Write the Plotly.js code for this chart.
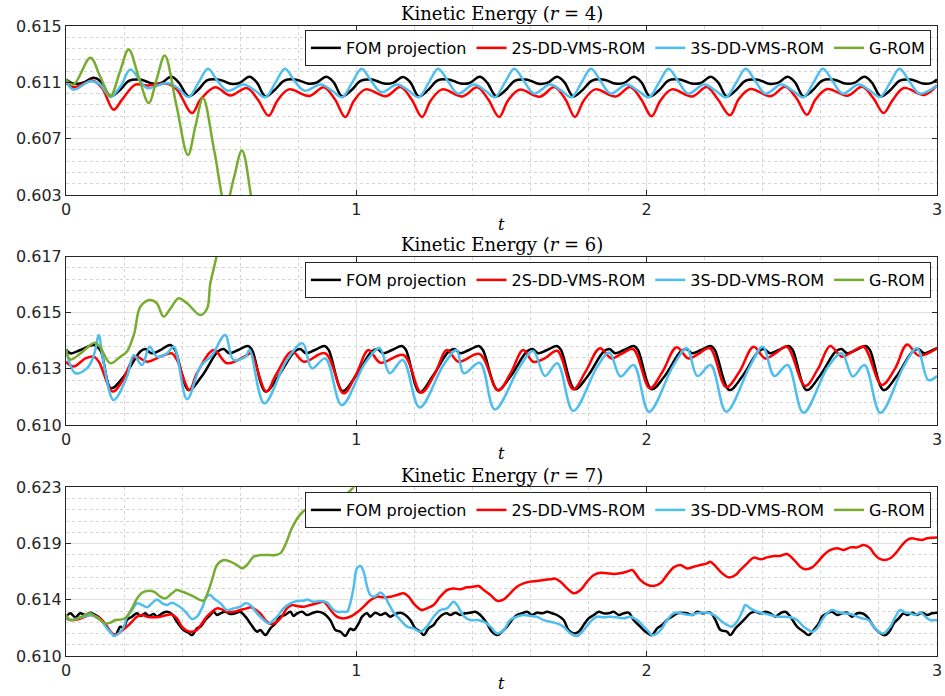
<!DOCTYPE html>
<html>
<head>
<meta charset="utf-8">
<script src="https://cdn.plot.ly/plotly-3.0.1.min.js"></script>
<style>
html,body{margin:0;padding:0;background:#ffffff;}
#chart{width:945px;height:696px;}
</style>
</head>
<body>
<div id="chart"></div>
<script>
// ---------------- DATA ----------------
const seriesNames = ['FOM projection', '2S-DD-VMS-ROM', '3S-DD-VMS-ROM', 'G-ROM'];
const seriesColors = ['#000000', '#ff0000', '#4dbeee', '#77ac30'];
const panelTitles = ['Kinetic Energy (<i>r</i> = 4)', 'Kinetic Energy (<i>r</i> = 6)', 'Kinetic Energy (<i>r</i> = 7)'];
const xAxisLabel = '<i>t</i>';
const xTickVals = [0, 1, 2, 3];
const xTickText = ['0', '1', '2', '3'];
const y1Range = [0.603, 0.615];
const y1TickVals = [0.603, 0.607, 0.611, 0.615];
const y1TickText = ['0.603', '0.607', '0.611', '0.615'];
const y2Range = [0.6104, 0.617];
const y2TickVals = [0.6104, 0.6126, 0.6148, 0.617];
const y2TickText = ['0.610', '0.613', '0.615', '0.617'];
const y3Range = [0.610, 0.623];
const y3TickVals = [0.610, 0.6143333, 0.6186667, 0.623];
const y3TickText = ['0.610', '0.614', '0.619', '0.623'];

// ----- r = 4 -----
const fom4_t = [0,0.026,0.061,0.095,0.118,0.153,
0.183,0.218,0.253,0.273,0.298,0.328,0.363,0.388,0.422,
0.452,0.487,0.522,0.542,0.567,0.597,0.632,0.657,0.687,
0.717,0.752,0.787,0.807,0.832,0.862,0.897,0.922,0.951,
0.981,1.016,1.051,1.071,1.096,1.126,1.161,1.186,1.215,
1.245,1.28,1.315,1.335,1.36,1.39,1.425,1.45,1.482,
1.512,1.547,1.582,1.602,1.627,1.657,1.692,1.717,1.747,
1.777,1.812,1.847,1.867,1.892,1.922,1.957,1.982,2.011,
2.041,2.076,2.111,2.131,2.156,2.186,2.221,2.246,2.276,
2.306,2.341,2.376,2.396,2.421,2.451,2.486,2.511,2.54,
2.57,2.605,2.64,2.66,2.685,2.715,2.75,2.775,2.807,
2.837,2.872,2.907,2.927,2.952,2.982,3.0];
const fom4_ke = [0.6112,0.6109,0.611,0.61132,0.6111,0.61003,
0.6104,0.61113,0.6112,0.6111,0.61091,0.61096,0.61139,0.611,0.61001,
0.6104,0.61115,0.6112,0.6111,0.6109,0.61095,0.6114,0.611,0.61,
0.61042,0.61113,0.61121,0.6111,0.61092,0.61097,0.61139,0.611,0.61001,
0.6104,0.61112,0.6112,0.6111,0.61091,0.61096,0.61138,0.611,0.61,
0.61041,0.61114,0.6112,0.6111,0.61091,0.61095,0.6114,0.611,0.61001,
0.6104,0.61113,0.6112,0.6111,0.6109,0.61096,0.61139,0.611,0.61,
0.61041,0.61113,0.61121,0.6111,0.61091,0.61096,0.61139,0.611,0.61001,
0.6104,0.61114,0.6112,0.6111,0.61091,0.61095,0.6114,0.611,0.61,
0.61041,0.61113,0.6112,0.6111,0.6109,0.61096,0.61139,0.611,0.61001,
0.6104,0.61113,0.61121,0.6111,0.61091,0.61096,0.61139,0.611,0.61,
0.6104,0.61113,0.6112,0.6111,0.61091,0.61096,0.6112];

const red4_t = [0,0.026,0.067,0.09,0.124,0.164,0.193,0.239,0.279,0.348,0.382,0.434,0.463,0.514,0.566,0.623,0.66,0.698,
0.728,0.768,0.838,0.888,0.926,0.962,
0.992,1.032,1.102,1.152,1.19,1.226,
1.256,1.296,1.366,1.416,1.454,1.492,
1.522,1.562,1.632,1.682,1.72,1.753,
1.783,1.823,1.893,1.943,1.981,2.017,
2.047,2.087,2.157,2.207,2.245,2.287,
2.317,2.357,2.427,2.477,2.515,2.552,
2.582,2.622,2.692,2.742,2.78,2.816,
2.846,2.886,2.956,3.0];
const red4_ke = [0.61096,0.61065,0.61096,0.61113,0.6106,0.60906,0.60977,0.61084,0.61077,0.61091,0.61048,0.60882,0.60977,0.61065,0.61006,0.6106,0.6098,0.60863,
0.6097,0.6105,0.61003,0.61065,0.6098,0.60854,
0.6097,0.6105,0.61002,0.61066,0.6098,0.60854,
0.6097,0.6105,0.61,0.61065,0.6098,0.60854,
0.6097,0.61048,0.60998,0.61066,0.6098,0.60854,
0.6097,0.6105,0.61,0.61067,0.6098,0.60859,
0.6097,0.6105,0.61,0.61066,0.6098,0.60866,
0.6098,0.61052,0.61002,0.61068,0.6099,0.6087,
0.6098,0.61053,0.61005,0.61068,0.6099,0.60882,
0.6097,0.6106,0.6101,0.6108];

const blue4_t = [0,0.026,0.084,0.118,0.153,0.19,0.222,0.279,0.348,0.385,0.422,
0.457,0.489,0.522,0.557,0.612,0.652,0.687,
0.722,0.754,0.787,0.822,0.877,0.917,0.951,
0.986,1.018,1.051,1.086,1.141,1.181,1.215,
1.25,1.282,1.315,1.35,1.405,1.445,1.477,
1.512,1.544,1.577,1.612,1.667,1.707,1.741,
1.776,1.808,1.841,1.876,1.931,1.971,2.008,
2.043,2.075,2.108,2.143,2.198,2.238,2.274,
2.309,2.341,2.374,2.409,2.464,2.504,2.54,
2.575,2.607,2.64,2.675,2.73,2.77,2.804,
2.839,2.871,2.904,2.94,3.0];
const blue4_ke = [0.61108,0.61048,0.61108,0.61084,0.60996,0.6108,0.61191,0.6106,0.61096,0.6106,0.60996,
0.611,0.61196,0.6111,0.6104,0.61084,0.6104,0.60994,
0.611,0.61196,0.6111,0.6104,0.61084,0.6104,0.60994,
0.611,0.61196,0.6111,0.6103,0.61084,0.6104,0.60994,
0.611,0.61196,0.6111,0.6102,0.61084,0.6104,0.60994,
0.611,0.61196,0.6111,0.6102,0.61084,0.6104,0.60994,
0.611,0.61196,0.6111,0.6102,0.61084,0.6104,0.60994,
0.611,0.61196,0.6111,0.6102,0.61084,0.6104,0.60994,
0.611,0.61196,0.6111,0.6102,0.61084,0.6104,0.60994,
0.611,0.61196,0.6111,0.6102,0.61084,0.6104,0.60996,
0.611,0.61196,0.6111,0.6102,0.61077];

const grom4_t = [0,0.026,0.084,0.118,0.153,0.185,0.216,0.25,0.285,0.312,0.34,0.38,0.42,0.446,0.472,0.511,0.55,0.578,0.606,0.643,0.68,0.75];
const grom4_ke = [0.6112,0.61084,0.61274,0.6114,0.61003,0.6117,0.61334,0.6114,0.60953,0.6112,0.61291,0.6094,0.60585,0.6079,0.60989,0.6061,0.6022,0.6042,0.60616,0.6022,0.598,0.59];

// ----- r = 6 -----
const fom6_t = [0,0.015,0.05,0.095,0.118,0.155,0.199,0.256,0.273,0.296,0.325,0.359,0.376,0.4225,
0.467,0.523,0.543,0.563,0.593,0.627,0.641,0.687,
0.731,0.787,0.807,0.827,0.857,0.891,0.905,0.953,
0.997,1.053,1.073,1.093,1.123,1.157,1.171,1.218,
1.262,1.318,1.338,1.358,1.388,1.422,1.436,1.487,
1.531,1.587,1.607,1.627,1.657,1.691,1.705,1.752,
1.796,1.852,1.872,1.892,1.922,1.956,1.97,2.017,
2.061,2.117,2.137,2.157,2.187,2.221,2.235,2.285,
2.329,2.385,2.405,2.425,2.455,2.489,2.503,2.551,
2.595,2.651,2.671,2.691,2.721,2.755,2.769,2.816,
2.86,2.916,2.936,2.956,2.986,3.0];
const fom6_ke = [0.61337,0.61321,0.61334,0.61354,0.61334,0.61184,0.6123,0.61328,0.61338,0.61321,0.61334,0.61354,0.61334,0.61177,
0.6123,0.61328,0.61338,0.61321,0.61334,0.6135,0.61334,0.61171,
0.6123,0.61328,0.61338,0.61321,0.61334,0.6135,0.61334,0.61173,
0.6123,0.61328,0.61338,0.61321,0.61334,0.6135,0.61334,0.61168,
0.6123,0.61328,0.61338,0.61321,0.61334,0.6135,0.61334,0.61177,
0.6123,0.61328,0.61338,0.61321,0.61334,0.6135,0.61334,0.6118,
0.6123,0.61328,0.61338,0.61321,0.61334,0.6135,0.61334,0.6118,
0.6123,0.61328,0.61338,0.61321,0.61334,0.6135,0.61334,0.61177,
0.6123,0.61328,0.61338,0.61321,0.61334,0.6135,0.61334,0.61177,
0.6123,0.61328,0.61338,0.61321,0.61334,0.6135,0.61334,0.61177,
0.6123,0.61328,0.61338,0.61321,0.61334,0.61341];

const red6_t = [0,0.026,0.067,0.095,0.113,0.161,0.193,0.239,0.279,0.325,
0.365,0.382,0.4255,0.451,0.509,0.555,0.623,0.637,0.69,0.723,
0.778,0.82,0.893,0.956,1.0,1.042,1.083,1.163,1.223,1.27,
1.312,1.352,1.425,1.488,1.53,1.575,1.609,1.65,1.692,1.747,
1.79,1.839,1.879,1.915,1.954,2.011,2.055,2.103,2.144,2.18,
2.218,2.274,2.32,2.368,2.408,2.445,2.483,2.546,2.59,2.632,
2.672,2.71,2.747,2.81,2.855,2.897,2.937,3.0];
const red6_ke = [0.61288,0.61269,0.61301,0.61308,0.61288,0.61171,0.6121,0.61308,0.61288,0.61308,
0.61321,0.61295,0.61177,0.61243,0.61334,0.61282,0.61314,0.61321,0.61171,0.61236,
0.61328,0.61288,0.61321,0.61164,0.6124,0.61334,0.61284,0.61314,0.61167,0.6124,
0.61334,0.61288,0.61318,0.61175,0.6124,0.61334,0.61288,0.61302,0.61331,0.6118,
0.6125,0.61341,0.61301,0.6132,0.61337,0.61184,0.6125,0.61345,0.61301,0.6132,
0.61341,0.61188,0.6125,0.61347,0.61301,0.61322,0.61347,0.61193,0.6126,0.6135,
0.61308,0.61328,0.61347,0.61197,0.6126,0.61356,0.61312,0.61341];

const blue6_t = [0,0.032,0.072,0.09,0.101,0.1125,0.128,0.164,0.21,0.233,
0.262,0.288,0.313,0.348,0.371,0.417,0.463,0.503,0.548,0.577,
0.618,0.632,0.683,0.761,0.815,0.847,0.893,0.95,1.03,1.08,
1.115,1.16,1.218,1.30,1.345,1.37,1.425,1.477,1.563,1.609,
1.65,1.692,1.747,1.83,1.871,1.91,1.955,2.008,2.09,2.138,
2.175,2.22,2.274,2.355,2.40,2.44,2.485,2.54,2.625,2.672,
2.71,2.75,2.805,2.885,2.931,2.97,3.0];
const blue6_ke = [0.61337,0.61243,0.61262,0.61295,0.61334,0.61393,0.61295,0.61138,0.6123,0.61314,
0.61275,0.61347,0.61308,0.61321,0.61347,0.61141,0.61269,0.61314,0.61393,0.61295,
0.61308,0.61334,0.61125,0.61295,0.6136,0.61262,0.61301,0.61118,0.61282,0.61341,
0.61243,0.61295,0.61109,0.61275,0.61334,0.61243,0.61284,0.61101,0.61269,0.6133,
0.61232,0.61282,0.61095,0.61269,0.61324,0.6123,0.61275,0.61092,0.61269,0.61341,
0.61232,0.61275,0.61092,0.61269,0.61347,0.61232,0.61275,0.61088,0.61269,0.61321,
0.6123,0.61275,0.61088,0.61269,0.61341,0.61216,0.61232];

const grom6_t = [0,0.015,0.05,0.1,0.118,0.153,0.187,0.21,0.235,0.256,0.29,0.313,0.336,0.36,0.388,0.417,0.463,0.486,0.497,0.518,0.55];
const grom6_ke = [0.61337,0.61297,0.61321,0.61363,0.61345,0.61282,0.61308,0.61328,0.61399,0.61504,0.6153,0.61517,0.61465,0.61497,0.61537,0.61517,0.61471,0.61497,0.61595,0.617,0.6195];

// ----- r = 7 -----
const fom7_t = [0,0.015,0.032,0.049,0.067,0.084,0.101,0.118,0.141,0.153,
0.17,0.187,0.199,0.21,0.227,0.245,0.256,0.273,0.285,0.302,
0.313,0.331,0.348,0.365,0.382,0.405,0.422,0.434,0.451,0.463,
0.48,0.497,0.509,0.52,0.532,0.549,0.566,0.583,0.6,0.618,
0.635,0.658,0.669,0.687,0.704,0.721,0.738,0.755,0.773,0.784,
0.796,0.813,0.83,0.847,0.865,0.887,0.91,0.928,0.945,0.962,
0.979,0.991,1.008,1.02,1.037,1.048,1.065,1.083,1.1,1.117,
1.134,1.152,1.169,1.186,1.203,1.22,1.232,1.249,1.266,1.278,
1.295,1.312,1.324,1.341,1.358,1.375,1.393,1.41,1.427,1.45,
1.467,1.485,1.502,1.519,1.536,1.553,1.571,1.588,1.605,1.622,
1.64,1.657,1.674,1.691,1.714,1.731,1.749,1.766,1.783,1.8,
1.818,1.835,1.852,1.869,1.886,1.904,1.921,1.938,1.955,1.978,
1.996,2.018,2.036,2.053,2.07,2.087,2.105,2.122,2.139,2.157,
2.174,2.191,2.219,2.237,2.254,2.277,2.288,2.306,2.323,2.34,
2.357,2.374,2.392,2.409,2.426,2.443,2.46,2.478,2.495,2.518,
2.541,2.558,2.575,2.593,2.604,2.621,2.638,2.656,2.673,2.69,
2.707,2.725,2.742,2.759,2.782,2.799,2.822,2.839,2.851,2.868,
2.885,2.897,2.914,2.931,2.948,2.966,2.983,3.0];
const fom7_ke = [0.6130,0.61329,0.61298,0.61329,0.61316,0.61334,0.61316,0.6129,0.61226,0.61187,
0.61161,0.61226,0.61213,0.61277,0.61303,0.61329,0.61308,0.61329,0.61308,0.61323,
0.61303,0.61329,0.61341,0.61323,0.61264,0.612,0.6118,0.61161,0.61213,0.61226,
0.61277,0.61316,0.61341,0.61316,0.61329,0.61341,0.61323,0.61329,0.61341,0.61303,
0.61251,0.61187,0.612,0.61161,0.61213,0.61251,0.61303,0.61316,0.61341,0.61308,
0.61329,0.61341,0.61316,0.61329,0.61341,0.61329,0.61277,0.612,0.61187,0.61155,
0.6121,0.612,0.61251,0.61303,0.61329,0.61303,0.61334,0.61316,0.61329,0.61303,
0.61323,0.61334,0.61316,0.61277,0.61213,0.61187,0.61161,0.61213,0.61239,0.61277,
0.61316,0.61329,0.61316,0.61334,0.61316,0.61329,0.61334,0.61341,0.61316,0.61251,
0.61187,0.61161,0.61187,0.61226,0.61277,0.61316,0.61329,0.61341,0.61316,0.61334,
0.61329,0.61341,0.61329,0.61316,0.61277,0.612,0.61174,0.61187,0.61239,0.6129,
0.61316,0.61341,0.61329,0.61329,0.61341,0.61316,0.61329,0.61334,0.61277,0.61226,
0.61187,0.61161,0.61213,0.61239,0.61277,0.61303,0.61329,0.61334,0.61329,0.61316,
0.61341,0.61329,0.61334,0.61277,0.612,0.61187,0.61161,0.61213,0.61251,0.6129,
0.61329,0.61341,0.61329,0.61341,0.61329,0.61303,0.61329,0.61341,0.61303,0.61226,
0.61187,0.61161,0.612,0.61251,0.61303,0.61329,0.61341,0.61316,0.61329,0.61334,
0.61303,0.61329,0.61329,0.61303,0.61226,0.61187,0.61161,0.612,0.61251,0.6129,
0.61329,0.61316,0.61334,0.61316,0.61334,0.61316,0.61329,0.61334];

const red7_t = [0,0.015,0.038,0.061,0.084,0.107,0.124,0.141,0.159,0.17,
0.187,0.21,0.227,0.245,0.262,0.279,0.302,0.325,0.348,0.365,
0.382,0.399,0.416,0.434,0.451,0.468,0.485,0.503,0.52,0.537,
0.554,0.577,0.6,0.623,0.635,0.646,0.669,0.692,0.709,0.726,
0.743,0.761,0.778,0.796,0.819,0.842,0.865,0.887,0.899,0.916,
0.933,0.951,0.968,0.985,1.002,1.025,1.048,1.071,1.094,1.117,
1.14,1.163,1.18,1.197,1.215,1.226,1.243,1.266,1.289,1.312,
1.335,1.358,1.381,1.404,1.421,1.439,1.462,1.485,1.508,1.53,
1.553,1.576,1.599,1.622,1.645,1.668,1.685,1.703,1.726,1.749,
1.772,1.795,1.818,1.841,1.863,1.886,1.909,1.932,1.95,1.961,
1.978,2.001,2.024,2.047,2.07,2.093,2.116,2.139,2.162,2.185,
2.208,2.219,2.237,2.26,2.283,2.306,2.323,2.346,2.369,2.392,
2.415,2.438,2.46,2.483,2.506,2.529,2.547,2.57,2.587,2.61,
2.633,2.656,2.679,2.702,2.725,2.748,2.77,2.782,2.799,2.816,
2.839,2.857,2.88,2.897,2.914,2.931,2.948,2.966,2.983,3.0];
const red7_ke = [0.6129,0.61277,0.61282,0.61298,0.61316,0.61303,0.61277,0.61226,0.61174,0.61161,
0.61187,0.61226,0.61264,0.61303,0.61316,0.61303,0.61298,0.61303,0.61316,0.6132,
0.6129,0.61226,0.61195,0.61187,0.612,0.61251,0.61303,0.61341,0.61367,0.61359,
0.61341,0.61341,0.61354,0.61367,0.61375,0.61367,0.61329,0.61264,0.61246,0.61264,
0.61303,0.61367,0.61393,0.61385,0.6138,0.61393,0.61406,0.61418,0.61393,0.61341,
0.61303,0.6129,0.61295,0.6131,0.61335,0.6138,0.6143,0.61457,0.61452,0.61457,
0.6147,0.61483,0.61457,0.61406,0.61367,0.61354,0.61367,0.61393,0.61457,0.61508,
0.61521,0.61514,0.61529,0.61534,0.61539,0.61508,0.6147,0.61426,0.61436,0.61483,
0.61534,0.6156,0.61573,0.61578,0.61586,0.61591,0.61596,0.61573,0.61521,0.61483,
0.61508,0.61573,0.61624,0.61642,0.61637,0.61632,0.61637,0.6165,0.61663,0.61637,
0.61586,0.6155,0.61539,0.6156,0.61624,0.61683,0.61701,0.61675,0.61688,0.61701,
0.61714,0.61727,0.61693,0.61637,0.61606,0.61624,0.61663,0.61714,0.61758,0.61745,
0.6176,0.61771,0.61771,0.61786,0.61745,0.61688,0.61668,0.61683,0.61719,0.61778,
0.61817,0.6183,0.61817,0.61837,0.61837,0.61855,0.6183,0.61791,0.61753,0.6174,
0.61753,0.61791,0.61855,0.61894,0.61907,0.61899,0.61894,0.61907,0.61912,0.61914];

const blue7_t = [0,0.015,0.038,0.061,0.084,0.107,0.124,0.141,0.159,0.164,
0.182,0.199,0.21,0.227,0.245,0.262,0.279,0.296,0.313,0.331,
0.348,0.365,0.382,0.399,0.416,0.434,0.451,0.468,0.485,0.497,
0.509,0.532,0.554,0.577,0.6,0.618,0.635,0.658,0.681,0.698,
0.715,0.732,0.749,0.773,0.796,0.819,0.83,0.853,0.876,0.899,
0.916,0.933,0.956,0.968,0.979,0.991,1.002,1.014,1.025,1.037,
1.048,1.06,1.071,1.083,1.094,1.111,1.129,1.152,1.175,1.197,
1.22,1.243,1.266,1.289,1.312,1.335,1.347,1.37,1.393,1.416,
1.439,1.462,1.485,1.508,1.53,1.553,1.576,1.599,1.622,1.645,
1.668,1.691,1.714,1.737,1.76,1.783,1.806,1.829,1.852,1.875,
1.898,1.921,1.944,1.967,1.99,2.007,2.018,2.036,2.053,2.07,
2.093,2.11,2.128,2.15,2.174,2.191,2.219,2.237,2.26,2.277,
2.294,2.311,2.329,2.34,2.357,2.38,2.403,2.426,2.449,2.472,
2.495,2.518,2.541,2.558,2.57,2.587,2.604,2.621,2.638,2.656,
2.679,2.702,2.725,2.742,2.764,2.782,2.799,2.816,2.839,2.857,
2.874,2.891,2.908,2.925,2.943,2.96,2.977,3.0];
const blue7_ke = [0.61298,0.61277,0.6129,0.61303,0.61316,0.61298,0.61264,0.61213,0.61169,0.61154,
0.61174,0.61226,0.61303,0.61354,0.61406,0.61393,0.61375,0.61406,0.61436,0.61406,
0.61393,0.61411,0.61393,0.61367,0.61329,0.61285,0.61303,0.61367,0.61457,0.6147,
0.61444,0.61406,0.61354,0.61367,0.6138,0.61406,0.61393,0.61329,0.61277,0.61251,
0.61277,0.61316,0.61367,0.61406,0.61424,0.61426,0.61436,0.61418,0.61424,0.61411,
0.61367,0.61341,0.61341,0.61341,0.61406,0.61534,0.61675,0.61693,0.6165,0.61534,
0.6147,0.61457,0.6147,0.6149,0.6147,0.61406,0.61334,0.61277,0.61226,0.61213,
0.61187,0.61226,0.61303,0.61354,0.61367,0.61418,0.61393,0.61308,0.61277,0.61277,
0.61264,0.61226,0.61174,0.612,0.61277,0.61303,0.61316,0.61308,0.61303,0.61277,
0.61264,0.61251,0.61226,0.61174,0.61154,0.612,0.61264,0.61303,0.61298,0.61303,
0.61298,0.6129,0.61303,0.61277,0.61226,0.61187,0.61161,0.61174,0.61213,0.61277,
0.61329,0.61334,0.61323,0.61316,0.61329,0.61336,0.61329,0.61308,0.61264,0.61239,
0.61226,0.61264,0.61341,0.61393,0.61367,0.61341,0.61329,0.61316,0.61303,0.61303,
0.61298,0.61277,0.61226,0.612,0.61187,0.61213,0.61277,0.61329,0.61354,0.61341,
0.61329,0.61323,0.61303,0.6129,0.61277,0.61226,0.61187,0.61174,0.61226,0.61303,
0.61354,0.61334,0.61329,0.61316,0.61334,0.61303,0.61277,0.61277];

const grom7_t = [0,0.015,0.032,0.049,0.067,0.084,0.101,0.118,0.135,0.153,
0.17,0.193,0.21,0.227,0.245,0.262,0.279,0.302,0.325,0.342,
0.365,0.382,0.399,0.416,0.44,0.463,0.474,0.485,0.503,0.52,
0.543,0.566,0.589,0.606,0.623,0.646,0.669,0.692,0.721,0.738,
0.755,0.778,0.801,0.824,0.853,0.876,0.899,0.916,0.933,0.956,
0.99,1.03];
const grom7_ke = [0.61316,0.61277,0.61282,0.61298,0.61316,0.61329,0.61303,0.61277,0.61251,0.61257,
0.61277,0.61282,0.61303,0.61367,0.61444,0.61488,0.61501,0.61496,0.61457,0.61444,
0.61483,0.61508,0.61496,0.61483,0.61457,0.61431,0.61426,0.6147,0.61586,0.61701,
0.6174,0.61727,0.61701,0.61675,0.61701,0.61765,0.61778,0.61778,0.61778,0.61791,
0.61855,0.61984,0.62074,0.62125,0.6213,0.621,0.6212,0.62138,0.62177,0.62228,
0.623,0.6245];

// ---------------- BUILD ----------------
const panels = [
  [[fom4_t, fom4_ke], [red4_t, red4_ke], [blue4_t, blue4_ke], [grom4_t, grom4_ke]],
  [[fom6_t, fom6_ke], [red6_t, red6_ke], [blue6_t, blue6_ke], [grom6_t, grom6_ke]],
  [[fom7_t, fom7_ke], [red7_t, red7_ke], [blue7_t, blue7_ke], [grom7_t, grom7_ke]]
];

const SANS = 'DejaVu Sans, Arial, sans-serif';
const SERIF = 'DejaVu Serif, Liberation Serif, serif';
const AX = '#262626';

const traces = [];
panels.forEach((series, p) => {
  const sfx = p === 0 ? '' : String(p + 1);
  series.forEach((s, i) => {
    traces.push({
      type: 'scatter', mode: 'lines',
      x: s[0], y: s[1],
      xaxis: 'x' + sfx, yaxis: 'y' + sfx,
      legend: 'legend' + sfx,
      name: seriesNames[i],
      line: { color: seriesColors[i], width: 2.5, shape: 'spline', smoothing: 1 },
      hoverinfo: 'skip'
    });
  });
});

function xAxis(anchor) {
  return {
    anchor: anchor, domain: [0, 1], range: [0, 3],
    tickmode: 'array', tickvals: xTickVals, ticktext: xTickText,
    ticks: 'inside', ticklen: 5, tickwidth: 1, tickcolor: AX,
    showline: true, linecolor: AX, linewidth: 1, mirror: 'ticks',
    showgrid: true, gridcolor: '#e2e2e2', gridwidth: 1, zeroline: false,
    tickfont: { family: SANS, size: 16, color: AX },
    minor: { tick0: 0, dtick: 0.2, showgrid: true, gridcolor: '#d4d4d4', griddash: 'dot', gridwidth: 1, ticks: '' },
    fixedrange: true
  };
}
function yAxis(anchor, domain, range, vals, text) {
  return {
    anchor: anchor, domain: domain, range: range,
    tickmode: 'array', tickvals: vals, ticktext: text,
    ticks: 'inside', ticklen: 5, tickwidth: 1, tickcolor: AX,
    showline: true, linecolor: AX, linewidth: 1, mirror: 'ticks',
    showgrid: true, gridcolor: '#e2e2e2', gridwidth: 1, zeroline: false,
    tickfont: { family: SANS, size: 16, color: AX },
    minor: { tick0: range[0], dtick: (vals[1] - vals[0]) / 5, showgrid: true, gridcolor: '#d4d4d4', griddash: 'dot', gridwidth: 1, ticks: '' },
    fixedrange: true
  };
}
function legendAt(y) {
  return {
    x: 0.993, xanchor: 'right', y: y, yanchor: 'top',
    orientation: 'h', bgcolor: '#ffffff', bordercolor: AX, borderwidth: 1,
    font: { family: SANS, size: 16, color: '#000' },
    traceorder: 'normal', itemclick: false, itemdoubleclick: false
  };
}

// paper-y positions of the panel titles and the t labels
const titleY = [1.0206, 0.6524, 0.2873];
const tLabelY = [0.6857, 0.3222, -0.0444];
const annotations = [];
panelTitles.forEach((txt, k) => {
  annotations.push({
    text: txt, xref: 'paper', yref: 'paper', x: 0.5, y: titleY[k],
    xanchor: 'center', yanchor: 'middle', showarrow: false,
    font: { family: SERIF, size: 18, color: '#000' }
  });
  annotations.push({
    text: xAxisLabel, xref: 'paper', yref: 'paper', x: 0.5, y: tLabelY[k],
    xanchor: 'center', yanchor: 'middle', showarrow: false,
    font: { family: SERIF, size: 16, color: '#000' }
  });
});

const layout = {
  width: 945, height: 696,
  margin: { l: 66, r: 8, t: 26, b: 40 },
  paper_bgcolor: '#ffffff', plot_bgcolor: '#ffffff',
  showlegend: true,
  xaxis: xAxis('y'),
  xaxis2: xAxis('y2'),
  xaxis3: xAxis('y3'),
  yaxis: yAxis('x', [0.7317, 1], y1Range, y1TickVals, y1TickText),
  yaxis2: yAxis('x2', [0.3667, 0.6338], y2Range, y2TickVals, y2TickText),
  yaxis3: yAxis('x3', [0, 0.2678], y3Range, y3TickVals, y3TickText),
  legend: legendAt(0.9937),
  legend2: legendAt(0.6254),
  legend3: legendAt(0.2603),
  annotations: annotations
};

Plotly.newPlot('chart', traces, layout, { displayModeBar: false, staticPlot: true });
</script>
</body>
</html>
